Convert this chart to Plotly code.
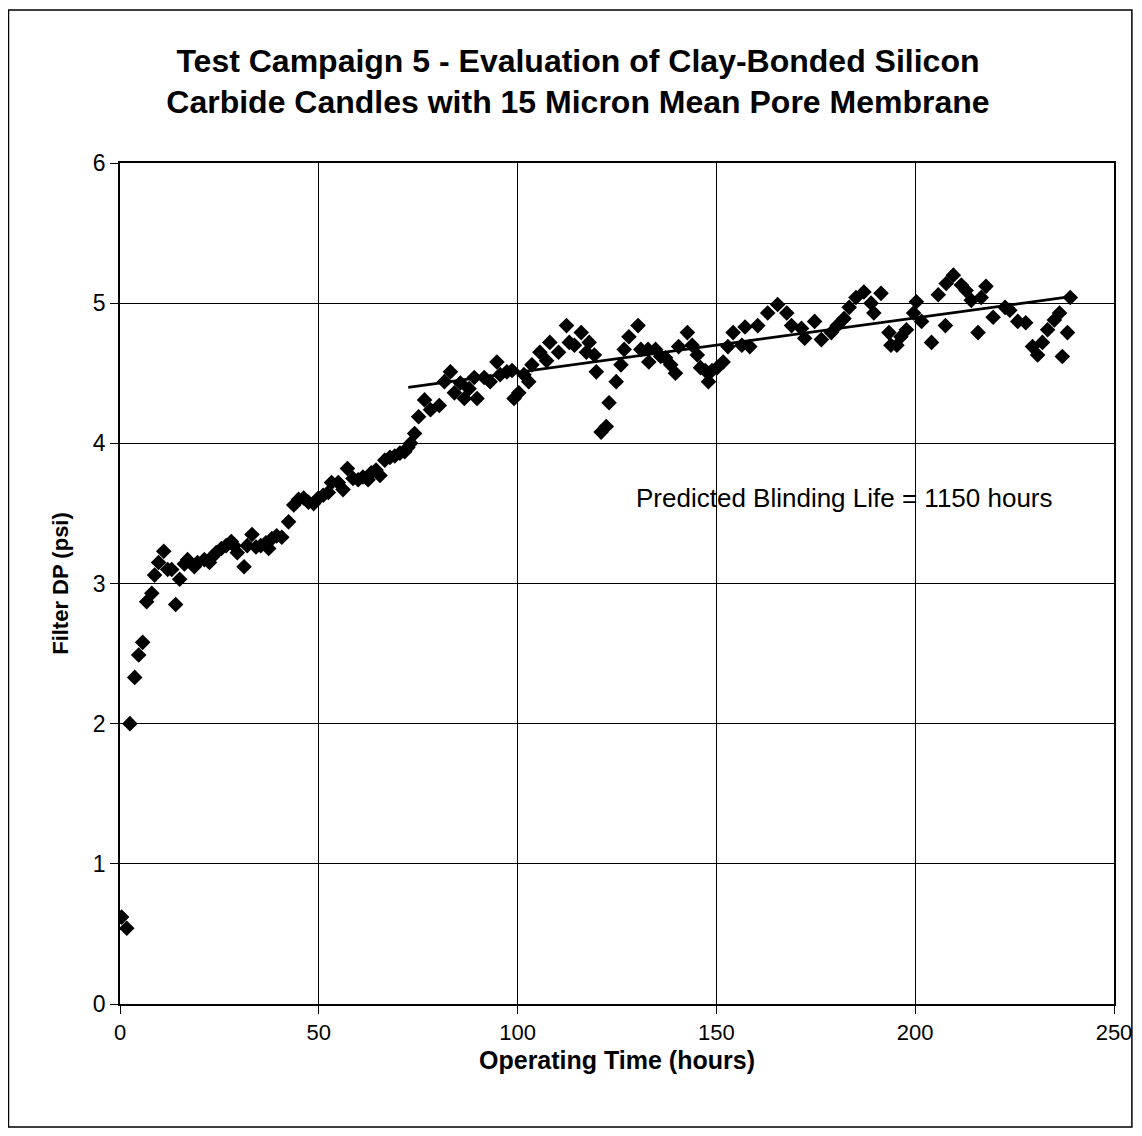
import plotly.graph_objects as go

# Operating time (hours) and filter DP (psi)
hours = [0.4, 1.7, 2.5, 3.7, 4.7, 5.7, 6.7, 8.0, 8.7, 9.7, 11.0, 12.0, 13.0, 14.0, 15.0,
         16.2, 17.0, 18.7, 19.5, 21.2, 22.5, 23.2, 24.2, 25.5, 26.7, 28.0, 28.7, 29.5,
         31.2, 32.0, 33.2, 34.2, 35.4, 36.7, 37.4, 38.2, 39.4, 40.7, 42.4, 43.7, 44.9,
         46.2, 47.4, 48.7, 49.9, 51.1, 52.4, 53.2, 54.9, 56.1, 57.2, 58.6, 59.9, 61.1,
         62.4, 63.2, 64.4, 65.4, 66.6, 67.9, 69.1, 70.4, 71.6, 72.4, 73.1, 74.1, 75.1,
         76.6, 78.1, 80.3, 81.6, 83.1, 84.1, 85.6, 86.6, 87.8, 89.1, 89.8, 91.6, 93.1,
         94.8, 95.6, 97.3, 98.6, 99.1, 100.3, 101.6, 102.8, 103.6, 105.6, 107.3, 108.1,
         110.3, 112.3, 113.0, 114.3, 116.0, 117.3, 118.0, 119.3, 119.8, 121.0, 122.3,
         123.0, 124.8, 126.0, 126.8, 128.0, 130.3, 131.0, 132.8, 133.0, 134.7, 136.0,
         137.2, 138.5, 139.7, 140.5, 142.7, 143.9, 145.2, 146.0, 147.2, 148.0, 148.9,
         150.2, 151.7, 152.9, 154.2, 156.4, 157.2, 158.4, 160.4, 162.9, 165.4, 167.7,
         168.9, 171.4, 172.2, 174.7, 176.4, 178.9, 180.4, 182.1, 183.4, 185.1, 187.1,
         188.9, 189.6, 191.4, 193.4, 193.9, 195.4, 196.4, 197.8, 199.6, 200.3, 201.6,
         204.1, 205.8, 207.6, 207.8, 209.6, 211.6, 212.8, 214.1, 215.8, 216.6, 217.8,
         219.6, 222.6, 223.8, 225.8, 227.8, 229.5, 230.8, 232.0, 233.3, 235.0, 236.3,
         237.0, 238.3, 239.0]
dp_psi = [0.62, 0.54, 2.00, 2.33, 2.49, 2.58, 2.87, 2.93, 3.06, 3.15, 3.23, 3.10, 3.10,
          2.85, 3.03, 3.14, 3.17, 3.12, 3.15, 3.17, 3.15, 3.19, 3.22, 3.25, 3.27, 3.30,
          3.27, 3.22, 3.12, 3.27, 3.35, 3.26, 3.27, 3.29, 3.25, 3.32, 3.34, 3.33, 3.44,
          3.56, 3.60, 3.61, 3.58, 3.57, 3.61, 3.63, 3.65, 3.72, 3.72, 3.67, 3.82, 3.75,
          3.74, 3.76, 3.74, 3.79, 3.81, 3.77, 3.88, 3.90, 3.91, 3.93, 3.94, 3.97, 4.00,
          4.07, 4.19, 4.31, 4.24, 4.27, 4.44, 4.51, 4.36, 4.43, 4.32, 4.39, 4.47, 4.32,
          4.47, 4.44, 4.58, 4.49, 4.51, 4.52, 4.32, 4.36, 4.49, 4.44, 4.56, 4.65, 4.59,
          4.72, 4.65, 4.84, 4.72, 4.70, 4.79, 4.65, 4.72, 4.63, 4.51, 4.08, 4.12, 4.29,
          4.44, 4.56, 4.67, 4.76, 4.84, 4.67, 4.67, 4.58, 4.67, 4.62, 4.61, 4.56, 4.50,
          4.69, 4.79, 4.70, 4.63, 4.54, 4.52, 4.44, 4.52, 4.54, 4.58, 4.69, 4.79, 4.70,
          4.83, 4.69, 4.84, 4.93, 4.99, 4.93, 4.84, 4.82, 4.75, 4.87, 4.74, 4.79, 4.84,
          4.89, 4.97, 5.04, 5.08, 5.00, 4.93, 5.07, 4.79, 4.70, 4.70, 4.76, 4.81, 4.93,
          5.01, 4.87, 4.72, 5.06, 4.84, 5.14, 5.20, 5.13, 5.09, 5.02, 4.79, 5.04, 5.12,
          4.90, 4.97, 4.95, 4.87, 4.86, 4.69, 4.63, 4.72, 4.81, 4.88, 4.93, 4.62, 4.79,
          5.04]

# Linear trend line endpoints
trend_hours = [72.5, 240.0]
trend_dp = [4.40, 5.05]

x_ticks = [0, 50, 100, 150, 200, 250]
y_ticks = [0, 1, 2, 3, 4, 5, 6]

FONT = "Arial, Liberation Sans, sans-serif"

fig = go.Figure()
fig.add_trace(go.Scatter(x=hours, y=dp_psi, mode="markers",
                         marker=dict(symbol="diamond", size=12, color="black"),
                         showlegend=False))
fig.add_trace(go.Scatter(x=trend_hours, y=trend_dp, mode="lines",
                         line=dict(color="black", width=2.8), showlegend=False))

fig.add_annotation(x=182.1, y=3.61, text="Predicted Blinding Life = 1150 hours",
                   showarrow=False, font=dict(family=FONT, size=26, color="black"))

fig.add_shape(type="rect", xref="paper", yref="paper",
              x0=-0.1122, x1=1.018, y0=-0.1463, y1=1.1819,
              line=dict(color="black", width=1.5), layer="below")

fig.update_layout(
    width=1134, height=1120,
    margin=dict(l=112, r=28, t=155, b=124, autoexpand=False),
    paper_bgcolor="white", plot_bgcolor="white",
    font=dict(family=FONT, color="black"),
    title=dict(text="<b>Test Campaign 5 - Evaluation of Clay-Bonded Silicon<br>"
                    "Carbide Candles with 15 Micron Mean Pore Membrane</b>",
               x=0.5026, xanchor="center", y=0.9433, yanchor="middle",
               font=dict(family=FONT, size=32, color="black")),
    xaxis=dict(range=[0, 250], tickvals=x_ticks, showgrid=True, gridcolor="black",
               gridwidth=1, zeroline=False, showline=True, linecolor="black",
               linewidth=1.5, mirror=True, ticks="outside", ticklen=8,
               tickcolor="black", tickfont=dict(size=22), ticklabeloverflow="allow",
               automargin=False,
               title=dict(text="<b>Operating Time (hours)</b>", font=dict(size=25),
                          standoff=7)),
    yaxis=dict(range=[0, 6], tickvals=y_ticks, showgrid=True, gridcolor="black",
               gridwidth=1, zeroline=False, showline=True, linecolor="black",
               linewidth=1.5, mirror=True, ticks="outside", ticklen=8,
               tickcolor="black", tickfont=dict(size=23), automargin=False,
               title=dict(text="<b>Filter DP (psi)</b>", font=dict(size=22),
                          standoff=18)),
)

fig.write_html("out.html")
